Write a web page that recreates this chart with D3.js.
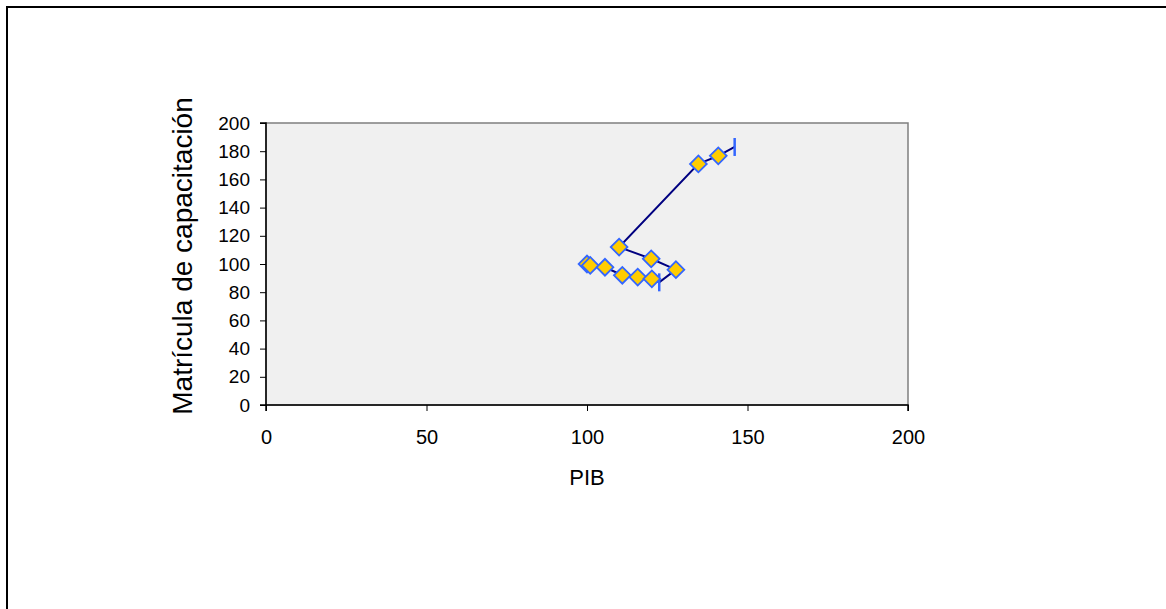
<!DOCTYPE html>
<html><head><meta charset="utf-8">
<script src="https://cdn.jsdelivr.net/npm/d3@7"></script>
<style>body{margin:0;background:#fff;} svg{display:block;}</style>
</head><body>
<script>
const pib = [100, 101, 105.6, 111, 115.8, 120.2, 122.5, 127.7, 120, 110, 134.7, 140.9, 146];
const matricula = [100, 99, 97.7, 92, 90.7, 89.5, 87, 96, 103.7, 112, 171, 176.7, 183];
const markerType = ["diamond","diamond","diamond","diamond","diamond","diamond","bar","diamond","diamond","diamond","diamond","diamond","bar"];
const xTicks = [0, 50, 100, 150, 200];
const yTicks = [0, 20, 40, 60, 80, 100, 120, 140, 160, 180, 200];
const xTitle = "PIB";
const yTitle = "Matrícula de capacitación";

const W = 1166, H = 609;
const svg = d3.select("body").append("svg").attr("width", W).attr("height", H);
svg.append("rect").attr("width", W).attr("height", H).attr("fill", "#fff");
svg.append("path").attr("d", `M7,${H+5} L7,7 L${W+5},7`).attr("fill","none").attr("stroke","#000").attr("stroke-width",2);

const x = d3.scaleLinear().domain([0, 200]).range([266, 908]);
const y = d3.scaleLinear().domain([0, 200]).range([405, 123]);

svg.append("rect").attr("x", x(0)).attr("y", y(200)).attr("width", x(200)-x(0)).attr("height", y(0)-y(200))
  .attr("fill", "#f0f0f0").attr("stroke", "#7f7f7f").attr("stroke-width", 1.5);

const font = "'Liberation Sans', Arial, sans-serif";
const xAxis = svg.append("g").attr("transform", `translate(0,${y(0)})`)
  .call(d3.axisBottom(x).tickValues(xTicks).tickSize(6).tickPadding(19).tickFormat(d3.format("d")));
const yAxis = svg.append("g").attr("transform", `translate(${x(0)},0)`)
  .call(d3.axisLeft(y).tickValues(yTicks).tickSize(6).tickPadding(10).tickFormat(d3.format("d")));
[xAxis, yAxis].forEach(g => {
  g.selectAll("path.domain").attr("stroke", "#000").attr("stroke-width", 1.5);
  g.selectAll(".tick line").attr("stroke", "#000").attr("stroke-width", 1);
  g.selectAll("text").attr("font-family", font).attr("fill", "#000");
});
xAxis.selectAll("text").attr("font-size", 20);
yAxis.selectAll("text").attr("font-size", 19);
xAxis.select("path.domain").attr("d", `M${x(0)},6V0H${x(200)}V6`);
yAxis.select("path.domain").attr("d", `M-6,${y(200)}H0V${y(0)}H-6`);

svg.append("text").attr("x", (x(0)+x(200))/2).attr("y", 485).attr("text-anchor","middle")
  .attr("font-family", font).attr("font-size", 22).text(xTitle);
svg.append("text").attr("transform", `translate(192,256) rotate(-90)`).attr("text-anchor","middle")
  .attr("font-family", font).attr("font-size", 28).text(yTitle);

const pts = pib.map((v, i) => ({x: v, y: matricula[i], m: markerType[i]}));
svg.append("path").datum(pts)
  .attr("d", d3.line().x(d => x(d.x)).y(d => y(d.y)))
  .attr("fill", "none").attr("stroke", "#000080").attr("stroke-width", 2);

svg.selectAll("path.bar").data(pts.filter(d => d.m === "bar")).join("path").attr("class","bar")
  .attr("d", d => `M${x(d.x)},${y(d.y)-9}V${y(d.y)+9}`)
  .attr("stroke", "#3366ff").attr("stroke-width", 2.5);

const diamond = d3.symbol().type(d3.symbolSquare).size(140);
svg.selectAll("path.dia").data(pts.filter(d => d.m === "diamond")).join("path").attr("class","dia")
  .attr("d", diamond)
  .attr("transform", d => `translate(${x(d.x)},${y(d.y)}) rotate(45)`)
  .attr("fill", "#ffcc00").attr("stroke", "#3366ff").attr("stroke-width", 1.8);
</script>
</body></html>
